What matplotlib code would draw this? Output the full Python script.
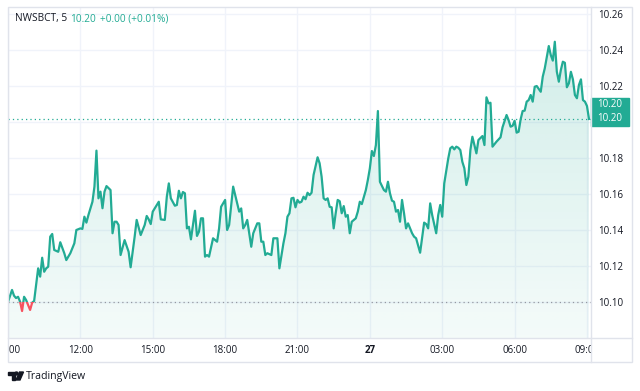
import numpy as np
import matplotlib.pyplot as plt
import matplotlib.patches as ptc
from matplotlib.lines import Line2D
from matplotlib.colors import LinearSegmentedColormap, to_rgba
from matplotlib.transforms import Bbox, TransformedBbox, blended_transform_factory

plt.rcParams['font.family'] = ['Open Sans', 'DejaVu Sans']

TEAL = '#22ab94'
RED = '#f7525f'
GRID = '#f0f3fa'
BORDER = '#e0e3eb'
TEXT = '#131722'

W, H = 640, 391

def fx(x):
	return x / W

def fy(y):
	return 1 - y / H

# 5 minute bars counted from 09:00 on the 26th
bars = [0, 2, 3, 4, 5, 6, 7, 8, 9, 11,
		12, 13, 15, 16, 17, 18, 19, 20, 21, 22,
		23, 25, 26, 28, 29, 31, 33, 34, 36, 37,
		38, 39, 40, 42, 43, 44, 45, 46, 47, 48,
		49, 51, 52, 53, 54, 55, 56, 58, 60, 61,
		63, 64, 66, 68, 69, 70, 71, 72, 74, 75,
		76, 78, 79, 80, 81, 83, 84, 85, 86, 87,
		88, 89, 90, 91, 93, 94, 95, 96, 97, 98,
		99, 100, 102, 104, 105, 106, 108, 109, 110, 112,
		115, 116, 117, 118, 119, 121, 122, 124, 125, 126,
		127, 128, 129, 131, 132, 134, 135, 137, 138, 139,
		140, 141, 142, 143, 144, 145, 146, 147, 148, 149,
		150, 151, 152, 154, 155, 156, 157, 158, 159, 160,
		161, 162, 163, 164, 165, 166, 167, 168, 169, 170,
		171, 173, 174, 175, 176, 178, 179, 180, 181, 182,
		183, 184, 185, 187, 188, 189, 190, 191, 192, 193,
		194, 195, 196, 197, 198, 199, 201, 202, 203, 205,
		207, 208, 209, 210, 211, 213, 214, 215, 216, 217,
		219, 220, 221, 222, 223, 224, 225, 226, 227, 228,
		229, 230, 231, 232, 233, 234, 236, 237, 238, 239,
		240, 241, 243, 245, 246, 248, 249, 250, 251, 252,
		253, 254, 255, 256, 257, 258, 259, 260, 261, 262,
		263, 265, 266, 267, 269, 270, 271, 272, 273, 274,
		275, 276, 277, 278, 279, 280, 281, 282, 283, 284,
		285, 286, 287, 288, 289]

prices = [10.1000, 10.1067, 10.1035, 10.1022, 10.1029, 10.1002, 10.0950, 10.1029, 10.1011, 10.0956,
		  10.0996, 10.1006, 10.1187, 10.1141, 10.1246, 10.1168, 10.1187, 10.1196, 10.1363, 10.1378,
		  10.1289, 10.1279, 10.1332, 10.1271, 10.1233, 10.1271, 10.1326, 10.1400, 10.1409, 10.1406,
		  10.1474, 10.1441, 10.1483, 10.1557, 10.1641, 10.1841, 10.1576, 10.1613, 10.1521, 10.1613,
		  10.1644, 10.1622, 10.1382, 10.1446, 10.1446, 10.1428, 10.1261, 10.1344, 10.1279, 10.1193,
		  10.1363, 10.1456, 10.1372, 10.1428, 10.1478, 10.1459, 10.1433, 10.1502, 10.1539, 10.1557,
		  10.1459, 10.1456, 10.1585, 10.1659, 10.1576, 10.1535, 10.1539, 10.1618, 10.1576, 10.1611,
		  10.1604, 10.1409, 10.1418, 10.1348, 10.1507, 10.1367, 10.1391, 10.1465, 10.1465, 10.1252,
		  10.1261, 10.1252, 10.1354, 10.1335, 10.1409, 10.1529, 10.1567, 10.1400, 10.1428, 10.1641,
		  10.1502, 10.1520, 10.1409, 10.1428, 10.1456, 10.1307, 10.1382, 10.1437, 10.1437, 10.1335,
		  10.1335, 10.1261, 10.1271, 10.1261, 10.1354, 10.1354, 10.1187, 10.1326, 10.1382, 10.1474,
		  10.1493, 10.1576, 10.1579, 10.1526, 10.1567, 10.1552, 10.1557, 10.1585, 10.1571, 10.1607,
		  10.1594, 10.1607, 10.1706, 10.1804, 10.1771, 10.1696, 10.1576, 10.1567, 10.1576, 10.1529,
		  10.1526, 10.1409, 10.1493, 10.1567, 10.1560, 10.1493, 10.1533, 10.1474, 10.1483, 10.1382,
		  10.1446, 10.1465, 10.1502, 10.1557, 10.1544, 10.1622, 10.1678, 10.1743, 10.1839, 10.1811,
		  10.1872, 10.2061, 10.1668, 10.1622, 10.1613, 10.1668, 10.1604, 10.1563, 10.1557, 10.1502,
		  10.1511, 10.1446, 10.1567, 10.1493, 10.1409, 10.1437, 10.1382, 10.1363, 10.1354, 10.1274,
		  10.1441, 10.1433, 10.1409, 10.1548, 10.1483, 10.1382, 10.1483, 10.1539, 10.1474, 10.1659,
		  10.1798, 10.1854, 10.1863, 10.1848, 10.1863, 10.1857, 10.1844, 10.1779, 10.1743, 10.1650,
		  10.1696, 10.1844, 10.1918, 10.1872, 10.1826, 10.1900, 10.1922, 10.1872, 10.2137, 10.2104,
		  10.2107, 10.1863, 10.1891, 10.1915, 10.1971, 10.2039, 10.2011, 10.1974, 10.1979, 10.2007,
		  10.1941, 10.1946, 10.2015, 10.2061, 10.2063, 10.2113, 10.2122, 10.2150, 10.2113, 10.2196,
		  10.2200, 10.2168, 10.2252, 10.2298, 10.2422, 10.2372, 10.2341, 10.2446, 10.2280, 10.2224,
		  10.2289, 10.2335, 10.2329, 10.2193, 10.2215, 10.2279, 10.2237, 10.2150, 10.2132, 10.2206,
		  10.2237, 10.2122, 10.2113, 10.2089, 10.2017]

prev_close = 10.10
symbol = 'NWSBCT, 5'
last_txt = '10.20'
change_txt = '+0.00 (+0.01%)'

xticks = [0, 36, 72, 108, 144, 180, 216, 252, 288]
xlabels = ['09:00', '12:00', '15:00', '18:00', '21:00', '27', '03:00', '06:00', '09:00']
yticks = [10.10, 10.12, 10.14, 10.16, 10.18, 10.20, 10.22, 10.24, 10.26]
ylabels = ['10.10', '10.12', '10.14', '10.16', '10.18', '', '10.22', '10.24', '10.26']

assert len(bars) == len(prices)
bars = np.array(bars)
prices = np.array(prices)
last = prices[-1]

fig = plt.figure(figsize=(6.4, 3.91), dpi=100)
ax = fig.add_axes([fx(8), fy(338), fx(591) - fx(8), fy(7) - fy(338)])
x0, x1 = 0, 290
y0, y1 = 10.08, 10.2639

# gradient area under the line
poly = ax.fill_between(bars, prices, y0, color='none', lw=0)
cmap = LinearSegmentedColormap.from_list('area', [to_rgba(TEAL, 0.05), to_rgba(TEAL, 0.2)])
grad = np.linspace(0, 1, 256).reshape(-1, 1)
im = ax.imshow(grad, extent=[x0, x1, y0, prices.max()], origin='lower', cmap=cmap,
			   aspect='auto', zorder=1, interpolation='bilinear')
im.set_clip_path(poly.get_paths()[0], transform=ax.transData)

# line: teal above previous close, red below
above = ptc.Rectangle((x0, prev_close), x1 - x0, 1, transform=ax.transData)
below = ptc.Rectangle((x0, prev_close - 1), x1 - x0, 1, transform=ax.transData)
l1, = ax.plot(bars, prices, color=TEAL, lw=1.6, zorder=4, solid_joinstyle='round')
l1.set_clip_path(above)
l2, = ax.plot(bars, prices, color=RED, lw=1.6, zorder=4, solid_joinstyle='round')
l2.set_clip_path(below)

ax.axhline(prev_close, color='#9598a1', lw=0.9, ls=(0, (1, 2.5)), zorder=3)
ax.axhline(last, color=TEAL, lw=0.9, ls=(0, (1, 2.5)), zorder=3)

ax.set_xlim(x0, x1)
ax.set_ylim(y0, y1)

ax.yaxis.tick_right()
ax.set_yticks(yticks)
ax.set_yticklabels(ylabels)
ax.set_xticks(xticks)
ax.set_xticklabels(xlabels)
ax.tick_params(axis='y', length=0, pad=5.5, labelsize=7, labelcolor=TEXT)
ax.tick_params(axis='x', length=0, pad=5, labelsize=7, labelcolor=TEXT)
ax.grid(color=GRID, lw=1)
ax.set_axisbelow(True)
for s in ax.spines.values():
	s.set_visible(False)

clip = TransformedBbox(Bbox([[0, -0.3], [1, 1]]), ax.transAxes)
for lbl in ax.get_xticklabels():
	lbl.set_clip_on(True)
	lbl.set_clip_box(clip)
	if lbl.get_text() == '27':
		lbl.set_fontweight('bold')

# last price badge on the price scale
trans = blended_transform_factory(ax.transAxes, ax.transData)
badge = ptc.Rectangle((1.0, last - 0.0040), 0.065, 0.0155, transform=trans,
					  color=TEAL, clip_on=False, zorder=6)
ax.add_patch(badge)
for dy in (0.0, 0.0078):
	ax.text(1.011, last + dy, last_txt, transform=trans, color='white', fontsize=7,
			va='center', ha='left', clip_on=False, zorder=7)

# frame
fig.add_artist(ptc.Rectangle((fx(8), fy(362)), fx(632) - fx(8), fy(7) - fy(362),
							 fill=False, ec=BORDER, lw=1, transform=fig.transFigure))
fig.add_artist(Line2D([fx(591), fx(591)], [fy(7), fy(362)], color=BORDER, lw=1))
fig.add_artist(Line2D([fx(8), fx(632)], [fy(338), fy(338)], color=BORDER, lw=1))

# header
fig.text(fx(15), fy(19), symbol, color=TEXT, fontsize=7.3, va='center')
fig.text(fx(70), fy(19), last_txt, color=TEAL, fontsize=7.3, va='center')
fig.text(fx(100), fy(19), change_txt, color=TEAL, fontsize=7.3, va='center')

# TradingView logo and name
tf = fig.transFigure
fig.add_artist(ptc.Polygon([(fx(8), fy(372)), (fx(14.5), fy(372)), (fx(14.5), fy(380)),
							(fx(11.5), fy(380)), (fx(11.5), fy(375)), (fx(8), fy(375))],
						   closed=True, color=TEXT, transform=tf))
fig.add_artist(ptc.Ellipse((fx(16.5), fy(373.5)), 3 / W, 3 / H, color=TEXT, transform=tf))
fig.add_artist(ptc.Polygon([(fx(19.5), fy(372)), (fx(23.5), fy(372)), (fx(20), fy(380)),
							(fx(16), fy(380))], closed=True, color=TEXT, transform=tf))
fig.text(fx(26), fy(376.5), 'TradingView', color=TEXT, fontsize=7.6, va='center')

fig.savefig('out.png', dpi=100)
